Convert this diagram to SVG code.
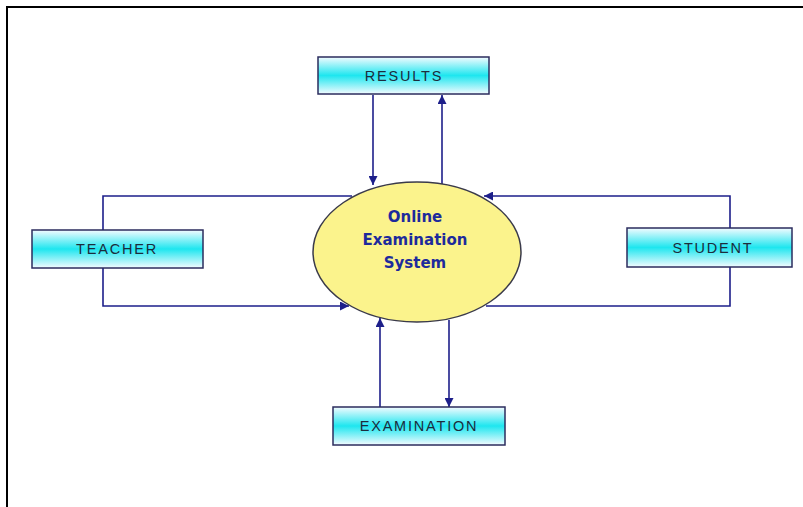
<svg xmlns="http://www.w3.org/2000/svg" width="803" height="507" viewBox="0 0 803 507">
<style>
.box{stroke:#2b2d5e;stroke-width:1.5;fill:url(#cy)}
.lbl{font-family:"Liberation Sans",Arial,sans-serif;font-size:14.5px;fill:#1c2c3c;text-anchor:middle;letter-spacing:1.8px}
.con{stroke:#1d1f8a;stroke-width:1.6;fill:none}
.sys{font-family:"DejaVu Sans",Verdana,sans-serif;font-size:15px;font-weight:bold;fill:#1d2a9c;text-anchor:middle}
.glow{fill:#eef6ff;opacity:0.6}
</style>
<defs>
<linearGradient id="cy" x1="0" y1="0" x2="0" y2="1">
<stop offset="0" stop-color="#f4fbff"/>
<stop offset="0.5" stop-color="#1ee6ef"/>
<stop offset="1" stop-color="#f4fbff"/>
</linearGradient>
<marker id="ah" viewBox="0 0 10 10" refX="10" refY="5" markerWidth="10" markerHeight="9" orient="auto" markerUnits="userSpaceOnUse">
<path d="M0,0 L10,5 L0,10 z" fill="#1d1f8a"/>
</marker>
</defs>
<rect width="803" height="507" fill="#fff"/>
<path d="M7,507 V7 H803" stroke="#000" stroke-width="2" fill="none"/>
<g id="connectors">
<line class="con" x1="373" y1="95" x2="373" y2="185" marker-end="url(#ah)"/>
<line class="con" x1="442" y1="184" x2="442" y2="95" marker-end="url(#ah)"/>
<polyline class="con" points="352,196 103,196 103,230"/>
<polyline class="con" points="103,268 103,306 349,306" marker-end="url(#ah)"/>
<polyline class="con" points="730,228 730,196 484,196" marker-end="url(#ah)"/>
<polyline class="con" points="486,306 730,306 730,267"/>
<line class="con" x1="380" y1="407" x2="380" y2="318" marker-end="url(#ah)"/>
<line class="con" x1="449" y1="320" x2="449" y2="407" marker-end="url(#ah)"/>
</g>
<g id="results">
<rect class="box" x="318" y="57" width="171" height="37"/>
<text class="lbl" x="404" y="81">RESULTS</text>
</g>
<g id="teacher">
<rect class="box" x="32" y="230" width="171" height="38"/>
<text class="lbl" x="117" y="254">TEACHER</text>
</g>
<g id="student">
<rect class="box" x="627" y="228" width="165" height="39"/>
<text class="lbl" x="713" y="253">STUDENT</text>
</g>
<g id="examination">
<rect class="box" x="333" y="407" width="172" height="38"/>
<text class="lbl" x="419" y="431">EXAMINATION</text>
</g>
<g id="system">
<ellipse cx="417" cy="252" rx="104" ry="70" fill="#fbf38c" stroke="#3a3a4a" stroke-width="1.5"/>
<text class="sys" x="415" y="222">Online</text>
<text class="sys" x="415" y="245">Examination</text>
<text class="sys" x="415" y="268">System</text>
</g>
</svg>
